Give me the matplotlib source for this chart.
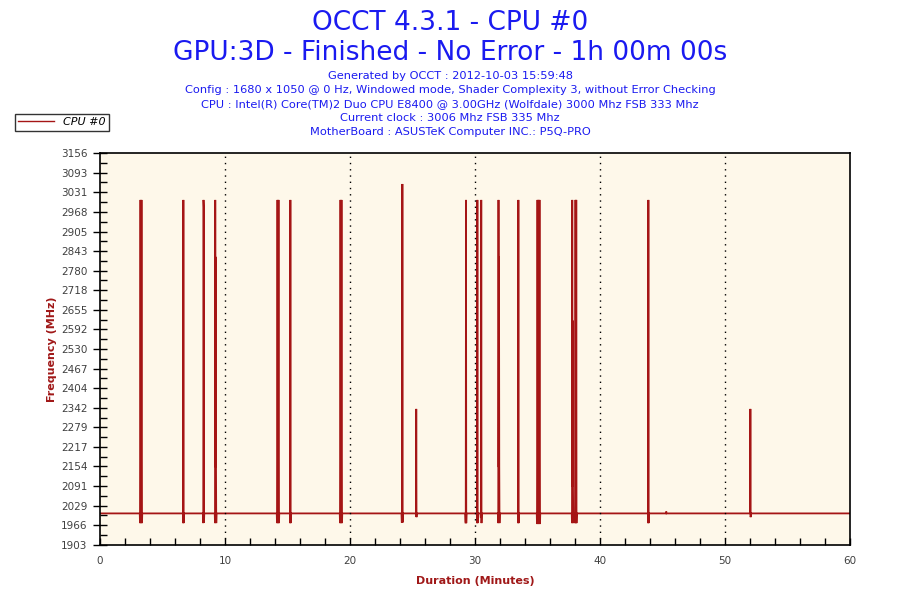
import matplotlib
matplotlib.use("Agg")
import matplotlib.pyplot as plt
from matplotlib.ticker import MultipleLocator, FixedLocator

# sampled CPU #0 clock (minutes, MHz), baseline 2004 with short bursts
times = [0.0,
         3.18, 3.20, 3.24, 3.28, 3.32, 3.36, 3.38,
         6.63, 6.65, 6.67, 6.69, 6.71,
         8.24, 8.26, 8.28, 8.30, 8.32, 8.34,
         9.18, 9.20, 9.22, 9.24, 9.26, 9.28, 9.30, 9.32,
         14.14, 14.16, 14.20, 14.24, 14.28, 14.32, 14.34,
         15.19, 15.21, 15.23, 15.25, 15.27,
         19.18, 19.20, 19.24, 19.28, 19.32, 19.36, 19.38,
         24.12, 24.14, 24.17, 24.19, 24.21, 24.23,
         25.26, 25.28, 25.30, 25.32, 25.34,
         29.22, 29.24, 29.26, 29.28, 29.30, 29.32,
         30.15, 30.17, 30.19, 30.21, 30.23,
         30.44, 30.46, 30.48, 30.50, 30.52, 30.54,
         31.84, 31.86, 31.88, 31.90, 31.92, 31.94, 31.96, 31.98,
         33.43, 33.45, 33.47, 33.49, 33.51, 33.53,
         34.94, 34.96, 35.00, 35.04, 35.08, 35.12, 35.16, 35.20, 35.22,
         37.74, 37.76, 37.78, 37.80, 37.82, 37.84, 37.86, 37.88,
         37.98, 38.00, 38.04, 38.08, 38.10, 38.12, 38.14,
         43.83, 43.85, 43.87, 43.89, 43.91,
         45.28, 45.30, 45.32,
         51.99, 52.01, 52.03, 52.05, 52.07,
         60.0]
freqs = [2004,
         2004, 1973, 3006, 1973, 3006, 1973, 2004,
         2004, 1973, 3006, 1973, 2004,
         2004, 1973, 3006, 2983, 1975, 2004,
         2004, 1973, 3006, 2152, 2824, 2152, 1973, 2004,
         2004, 1973, 3006, 1973, 3006, 1973, 2004,
         2004, 1973, 3006, 1973, 2004,
         2004, 1973, 3006, 1973, 3006, 1973, 2004,
         2004, 1977, 1977, 3057, 1975, 2004,
         2004, 1995, 2338, 1992, 2004,
         2004, 1975, 1975, 3006, 1973, 2004,
         2004, 1973, 3006, 1973, 2004,
         2004, 1992, 1992, 3006, 1973, 2004,
         2004, 1973, 3006, 2152, 2824, 2152, 1973, 2004,
         2004, 1973, 3006, 1973, 1992, 2004,
         2004, 1970, 3006, 1970, 3006, 1970, 3006, 1970, 2004,
         2004, 1973, 3006, 2089, 2620, 2089, 1973, 2004,
         2004, 1973, 3006, 1973, 3006, 1973, 2004,
         2004, 1973, 3006, 1973, 2004,
         2004, 2010, 2004,
         2004, 2004, 2338, 1992, 2004,
         2004]

y_ticks = [1903, 1966, 2029, 2091, 2154, 2217, 2279, 2342, 2404, 2467, 2530,
           2592, 2655, 2718, 2780, 2843, 2905, 2968, 3031, 3093, 3156]

title_lines = ["OCCT 4.3.1 - CPU #0", "GPU:3D - Finished - No Error - 1h 00m 00s"]
info_lines = ["Generated by OCCT : 2012-10-03 15:59:48",
              "Config : 1680 x 1050 @ 0 Hz, Windowed mode, Shader Complexity 3, without Error Checking",
              "CPU : Intel(R) Core(TM)2 Duo CPU E8400 @ 3.00GHz (Wolfdale) 3000 Mhz FSB 333 Mhz",
              "Current clock : 3006 Mhz FSB 335 Mhz",
              "MotherBoard : ASUSTeK Computer INC.: P5Q-PRO"]

line_col = "#A51515"
label_col = "#A01818"
blue = "#1A1AF0"

fig = plt.figure(figsize=(9, 6), dpi=100)
ax = fig.add_axes([100 / 900, 55 / 600, 750 / 900, 392 / 600])
ax.set_facecolor("#FEF8EA")

ax.plot(times, freqs, color=line_col, lw=1.3, label="CPU #0", solid_joinstyle="miter")

ax.set_xlim(0, 60)
ax.set_ylim(y_ticks[0], y_ticks[-1])

ax.xaxis.set_major_locator(MultipleLocator(10))
ax.xaxis.set_minor_locator(MultipleLocator(2))
ax.yaxis.set_major_locator(FixedLocator(y_ticks))
mids = [(a + b) / 2 for a, b in zip(y_ticks[:-1], y_ticks[1:])]
ax.yaxis.set_minor_locator(FixedLocator(mids))

ax.tick_params(axis="x", which="both", direction="in", length=5, width=1,
               labelsize=7.5, labelcolor="#404040", pad=8)
ax.tick_params(axis="y", which="major", direction="inout", length=10, width=1,
               labelsize=7.5, labelcolor="#404040", pad=4)
ax.tick_params(axis="y", which="minor", direction="in", length=5, width=1)

for s in ax.spines.values():
    s.set_linewidth(1.2)
    s.set_color("black")

for x in range(10, 60, 10):
    ax.axvline(x, color="black", lw=1, ls=(0, (1, 3.5)))

ax.set_xlabel("Duration (Minutes)", color=label_col, fontsize=8, fontweight="bold", labelpad=7)
ax.set_ylabel("Frequency (MHz)", color=label_col, fontsize=8, fontweight="bold", labelpad=3)

fig.text(0.5, 1 - 23 / 600, title_lines[0], ha="center", va="center", color=blue, fontsize=19)
fig.text(0.5, 1 - 53 / 600, title_lines[1], ha="center", va="center", color=blue, fontsize=19)
for i, t in enumerate(info_lines):
    fig.text(0.5, 1 - (76 + i * 14) / 600, t, ha="center", va="center", color=blue, fontsize=8.2)

leg = fig.legend(loc="upper left", bbox_to_anchor=(15 / 900, 1 - 114 / 600), frameon=True,
                 fancybox=False, edgecolor="black", fontsize=8, handlelength=3.2,
                 borderpad=0.3, handletextpad=0.8, borderaxespad=0)
leg.get_frame().set_linewidth(1)
for txt in leg.get_texts():
    txt.set_fontstyle("italic")
for h in leg.get_lines():
    h.set_linewidth(1)

fig.savefig("out.png", dpi=100)
